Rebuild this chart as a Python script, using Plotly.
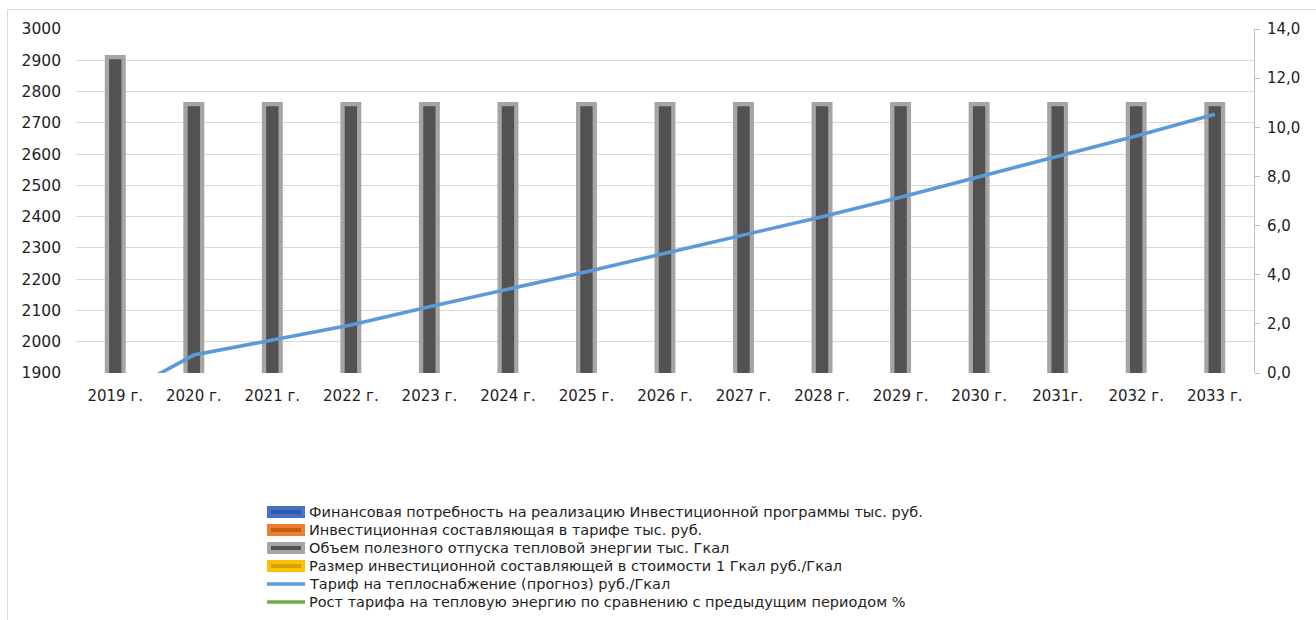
import plotly.graph_objects as go

# ---- data ----
years = ["2019 г.", "2020 г.", "2021 г.", "2022 г.", "2023 г.", "2024 г.", "2025 г.",
         "2026 г.", "2027 г.", "2028 г.", "2029 г.", "2030 г.", "2031г.", "2032 г.", "2033 г."]
volume = [2910, 2760, 2760, 2760, 2760, 2760, 2760, 2760, 2760, 2760, 2760, 2760, 2760, 2760, 2760]
tariff = [-1.0, 0.73, 1.34, 1.95, 2.70, 3.41, 4.12, 4.87, 5.62, 6.36, 7.15, 7.99, 8.80, 9.65, 10.53]
legend_names = [
    "Финансовая потребность на реализацию Инвестиционной программы тыс. руб.",
    "Инвестиционная составляющая в тарифе тыс. руб.",
    "Объем полезного отпуска тепловой энергии тыс. Гкал",
    "Размер инвестиционной составляющей в стоимости 1 Гкал руб./Гкал",
    "Тариф на теплоснабжение (прогноз) руб./Гкал",
    "Рост тарифа на тепловую энергию по сравнению с предыдущим периодом %",
]

# ---- geometry (pixels) ----
W, H = 1316, 620
L, R, T, B = 76, 1254, 29, 373
FONT = "DejaVu Sans"
TXT = "#1e1e1e"


def px(x):
    return (x - L) / (R - L)


def py(y):
    return (B - y) / (B - T)


fig = go.Figure()
fig.add_trace(go.Bar(
    x=years, y=volume, name=legend_names[2], width=0.212,
    marker=dict(color="#525252", line=dict(color="#a5a5a5", width=4.3)),
    showlegend=False,
))
fig.add_trace(go.Scatter(
    x=years, y=tariff, name=legend_names[4], yaxis="y2", mode="lines",
    line=dict(color="#5b9bd5", width=3.6), showlegend=False,
))

# custom legend
row_y = [512, 530, 548, 566, 584, 602]
sym = [
    ("bar", "#2f5aa8", "#4472c4"),
    ("bar", "#c55a11", "#ed7d31"),
    ("bar", "#525252", "#a5a5a5"),
    ("bar", "#d4a000", "#ffc000"),
    ("line", "#5b9bd5", None),
    ("line", "#70ad47", None),
]
shapes = []
annotations = []
for (kind, c1, c2), yy, name in zip(sym, row_y, legend_names):
    if kind == "bar":
        shapes.append(dict(type="rect", xref="paper", yref="paper",
                           x0=px(269), x1=px(303), y0=py(yy + 4), y1=py(yy - 4),
                           fillcolor=c1, line=dict(color=c2, width=4)))
    else:
        shapes.append(dict(type="line", xref="paper", yref="paper",
                           x0=px(267), x1=px(305), y0=py(yy), y1=py(yy),
                           line=dict(color=c1, width=3.6)))
    annotations.append(dict(text=name, xref="paper", yref="paper", x=px(307), y=py(yy),
                            xanchor="left", yanchor="middle", showarrow=False,
                            font=dict(family=FONT, size=14.5, color=TXT)))

# outer chart frame
shapes.append(dict(type="rect", xref="paper", yref="paper",
                   x0=px(7.5), x1=px(1330), y0=py(640), y1=py(9.5),
                   line=dict(color="#d9d9d9", width=1), fillcolor="rgba(0,0,0,0)", layer="below"))

fig.update_layout(
    width=W, height=H,
    margin=dict(l=L, r=W - R, t=T, b=H - B, pad=0),
    paper_bgcolor="white", plot_bgcolor="white",
    separators=", ",
    barmode="overlay",
    showlegend=False,
    font=dict(family=FONT, size=15, color=TXT),
    xaxis=dict(
        type="category", showgrid=False, zeroline=False, showline=False,
        ticks="", ticklabelstandoff=12,
        tickfont=dict(family=FONT, size=15, color=TXT),
    ),
    yaxis=dict(
        range=[1900, 3000], dtick=100, showgrid=True, gridcolor="#d9d9d9", gridwidth=1,
        zeroline=False, showline=False, ticks="", ticklabelstandoff=14,
        tickfont=dict(family=FONT, size=15.5, color=TXT),
    ),
    yaxis2=dict(
        range=[0, 14], dtick=2, tickformat=".1f", overlaying="y", side="right",
        showgrid=False, zeroline=False, showline=True, linecolor="#bfbfbf", linewidth=1,
        ticks="outside", ticklen=5, tickcolor="#bfbfbf", ticklabelstandoff=4,
        tickfont=dict(family=FONT, size=15, color=TXT),
    ),
    shapes=shapes,
    annotations=annotations,
)

fig.write_html("out.html",
               config={"displayModeBar": False},
               post_script="document.body.style.margin='0';document.body.style.padding='0';")
